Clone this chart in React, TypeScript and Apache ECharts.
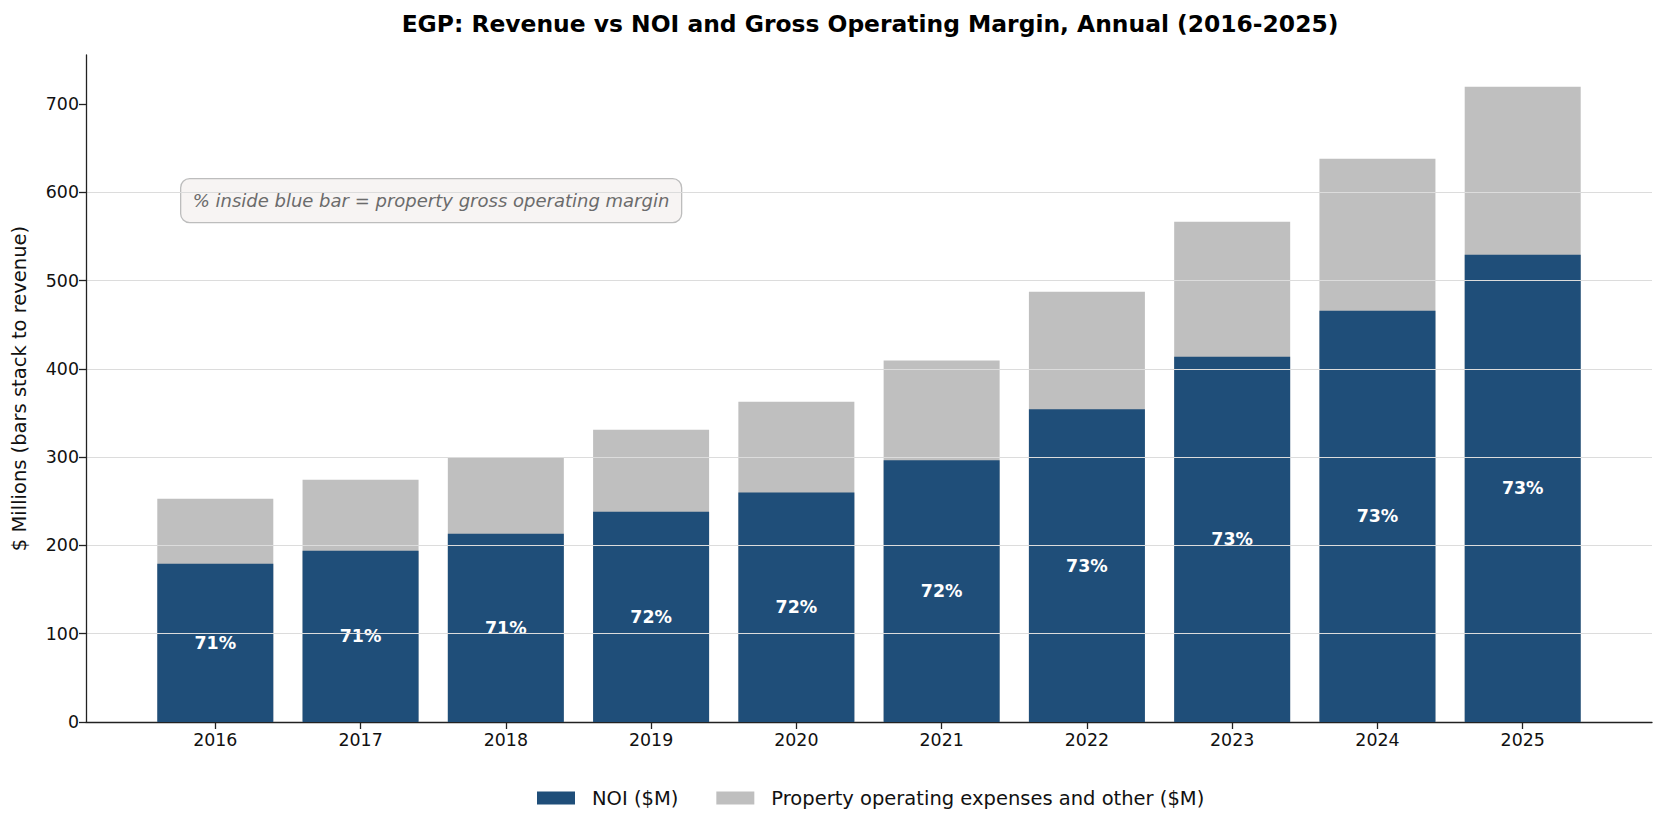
import { useEffect, useRef } from "react";
import * as echarts from "echarts";

const years = [2016, 2017, 2018, 2019, 2020, 2021, 2022, 2023, 2024, 2025];
const noi = [179.3, 194, 213.2, 238.2, 260, 296.4, 354.2, 413.7, 465.8, 529.2];
const revenue = [252.9, 274.4, 299.3, 331, 362.7, 409.6, 487.3, 566.6, 638, 719.5];
const margins = ["71%", "71%", "71%", "72%", "72%", "72%", "73%", "73%", "73%", "73%"];
const yTicks = [0, 100, 200, 300, 400, 500, 600, 700];

const FONT = "DejaVu Sans";

export default function App() {
  const chartRef = useRef<HTMLDivElement>(null);

  useEffect(() => {
    document.body.style.margin = "0";
    if (!chartRef.current) return;
    const chart = echarts.init(chartRef.current, null, { renderer: "svg" });

    chart.setOption({
      animation: false,
      textStyle: { fontFamily: FONT },
      grid: { left: 86, right: 14, top: 55, bottom: 105 },
      legend: {
        left: 532,
        top: 783,
        itemWidth: 38,
        itemHeight: 13,
        itemGap: 38,
        icon: "rect",
        textStyle: { fontSize: 19.5, color: "#111", padding: [0, 0, 0, 12] },
        data: ["NOI ($M)", "Property operating expenses and other ($M)"],
      },
      xAxis: {
        type: "value",
        min: 2015.11,
        max: 2025.89,
        splitLine: { show: false },
        axisLine: { lineStyle: { color: "#222", width: 1.3 } },
        axisTick: {
          customValues: years,
          length: 7,
          lineStyle: { color: "#222", width: 1.3 },
        },
        axisLabel: {
          customValues: years,
          formatter: (v: number) => String(v),
          fontSize: 17.4,
          color: "#111",
          margin: 9,
        },
      },
      yAxis: {
        type: "value",
        min: 0,
        max: 755.5,
        interval: 100,
        z: 5,
        name: "$ Millions (bars stack to revenue)",
        nameLocation: "middle",
        nameGap: 57,
        nameTextStyle: { fontSize: 19.5, color: "#111" },
        axisLine: { show: true, lineStyle: { color: "#222", width: 1.3 } },
        axisTick: {
          show: true,
          customValues: yTicks,
          length: 7,
          lineStyle: { color: "#222", width: 1.3 },
        },
        axisLabel: {
          customValues: yTicks,
          fontSize: 17.4,
          color: "#111",
          margin: 7,
        },
        splitLine: {
          show: true,
          showMinLine: false,
          showMaxLine: false,
          lineStyle: { color: "#dcdcdc", width: 1.2 },
        },
      },
      series: [
        {
          // full revenue bar in grey, NOI drawn over it so the grey part reads as expenses
          name: "Property operating expenses and other ($M)",
          type: "bar",
          barWidth: 116,
          barGap: "-100%",
          z: 2,
          itemStyle: { color: "#bfbfbf" },
          data: years.map((y, i) => [y, revenue[i]]),
        },
        {
          name: "NOI ($M)",
          type: "bar",
          barWidth: 116,
          barGap: "-100%",
          z: 3,
          itemStyle: { color: "#1f4e79" },
          data: years.map((y, i) => [y, noi[i]]),
          label: {
            show: true,
            position: "inside",
            formatter: (p: { dataIndex: number }) => margins[p.dataIndex],
            color: "#fff",
            fontWeight: "bold",
            fontSize: 17.4,
            fontFamily: FONT,
          },
        },
      ],
      graphic: [
        {
          type: "text",
          x: 870,
          y: 24,
          style: {
            text: "EGP: Revenue vs NOI and Gross Operating Margin, Annual (2016-2025)",
            fontFamily: FONT,
            fontSize: 23.4,
            fontWeight: "bold",
            fill: "#000",
            textAlign: "center",
            textVerticalAlign: "middle",
          },
        },
        {
          type: "group",
          left: 180,
          top: 178,
          z: 10,
          children: [
            {
              type: "rect",
              shape: { x: 0, y: 0, width: 501, height: 44, r: 9 },
              style: { fill: "#f7f4f3", stroke: "#bdbdbd", lineWidth: 1.3 },
            },
            {
              type: "text",
              x: 12,
              y: 22,
              style: {
                text: "% inside blue bar = property gross operating margin",
                fontFamily: FONT,
                fontSize: 18,
                fontStyle: "italic",
                fill: "#6b6b6b",
                textVerticalAlign: "middle",
              },
            },
          ],
        },
      ],
    });

    return () => chart.dispose();
  }, []);

  return <div ref={chartRef} style={{ width: 1666, height: 827 }} />;
}
